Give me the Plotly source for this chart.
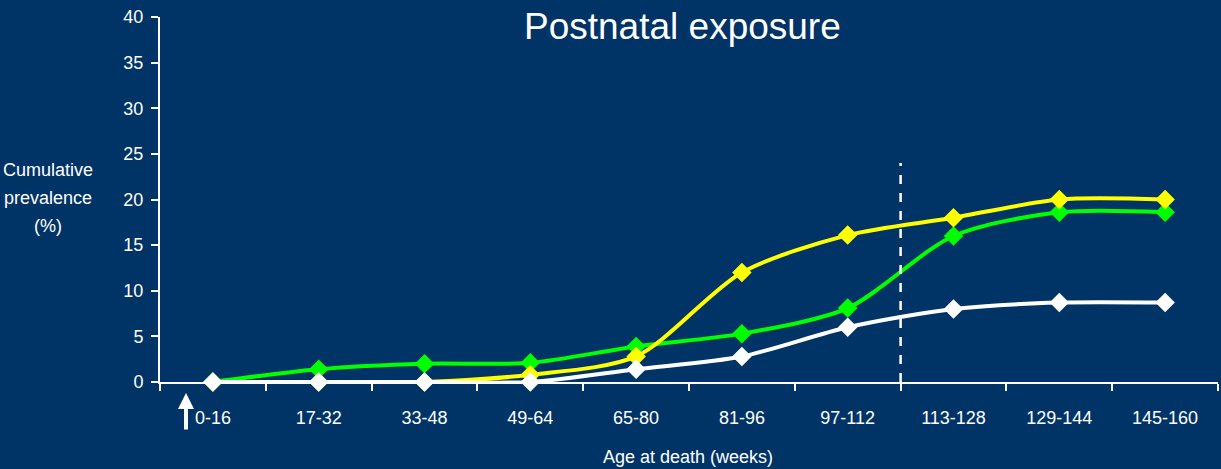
import plotly.graph_objects as go

categories = ["0-16", "17-32", "33-48", "49-64", "65-80", "81-96",
              "97-112", "113-128", "129-144", "145-160"]
white_vals = [0, 0, 0, 0, 1.4, 2.8, 6.0, 8.0, 8.7, 8.7]
green_vals = [0, 1.4, 2.0, 2.1, 3.9, 5.3, 8.1, 16.0, 18.6, 18.6]
yellow_vals = [0, 0, 0, 0.8, 2.8, 12.0, 16.1, 18.0, 20.0, 20.0]
y_ticks = [0, 5, 10, 15, 20, 25, 30, 35, 40]
y_title_lines = ["Cumulative", "prevalence", "(%)"]

BG = "rgb(0,51,102)"
FONT = "Liberation Sans, Arial, sans-serif"

fig = go.Figure()
series = [
    (green_vals, "rgb(0,255,0)"),
    (yellow_vals, "rgb(255,255,0)"),
    (white_vals, "white"),
]
for vals, col in series:
    fig.add_trace(go.Scatter(
        x=categories, y=vals, mode="lines+markers",
        line=dict(color=col, width=4, shape="spline", smoothing=0.8),
        marker=dict(symbol="diamond", size=15, color=col, line=dict(width=0)),
        cliponaxis=False, showlegend=False,
    ))

fig.add_shape(type="line", xref="x", yref="y", x0=6.5, x1=6.5, y0=0, y1=24,
              line=dict(color="white", width=2.5, dash="dash"))

fig.add_annotation(text="Postnatal exposure", xref="paper", yref="paper",
                   x=(682 - 160) / 1058, y=(382 - 26) / 365, showarrow=False,
                   xanchor="center", yanchor="middle",
                   font=dict(family=FONT, size=37, color="white"))
for i, line in enumerate(y_title_lines):
    fig.add_annotation(text=line, xref="paper", yref="paper",
                       x=(48 - 160) / 1058, y=(382 - (170 + 28 * i)) / 365,
                       showarrow=False, xanchor="center", yanchor="middle",
                       font=dict(family=FONT, size=18, color="white"))
fig.add_annotation(text="Age at death (weeks)", xref="paper", yref="paper",
                   x=(688 - 160) / 1058, y=(382 - 457) / 365, showarrow=False,
                   xanchor="center", yanchor="middle",
                   font=dict(family=FONT, size=18, color="white"))
fig.add_annotation(text="", xref="paper", yref="paper",
                   x=(186 - 160) / 1058, y=(382 - 393) / 365,
                   ax=0, ay=38, showarrow=True, arrowhead=2, arrowsize=0.8,
                   arrowwidth=4, arrowcolor="white")

fig.update_layout(
    width=1221, height=469,
    paper_bgcolor=BG, plot_bgcolor=BG,
    margin=dict(l=160, r=3, t=17, b=87),
    font=dict(family=FONT, color="white", size=18),
    xaxis=dict(type="category", range=[-0.5, 9.5], tickson="boundaries",
               ticks="outside", ticklen=7, tickcolor="white", tickwidth=1.5,
               showline=True, linecolor="white", linewidth=2,
               showgrid=False, zeroline=False,
               tickfont=dict(family=FONT, size=18, color="white"),
               ticklabelstandoff=18),
    yaxis=dict(range=[0, 40], tickvals=y_ticks,
               ticks="outside", ticklen=7, tickcolor="white", tickwidth=1.5,
               showline=True, linecolor="white", linewidth=2,
               showgrid=False, zeroline=False,
               tickfont=dict(family=FONT, size=18, color="white"),
               ticklabelstandoff=4),
)

fig.write_html("out.html",
               config={"displayModeBar": False},
               post_script="document.body.style.margin='0';"
                           "document.body.style.background='rgb(0,51,102)';")
